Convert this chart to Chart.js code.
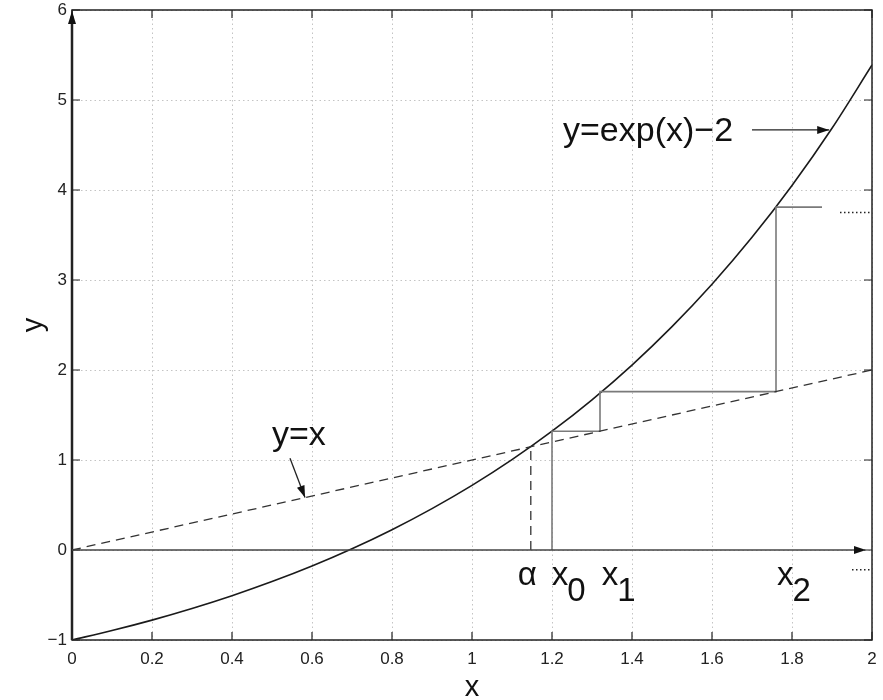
<!DOCTYPE html>
<html>
<head>
<meta charset="utf-8">
<script src="https://cdn.jsdelivr.net/npm/chart.js@4/dist/chart.umd.min.js"></script>
<style>
  body { margin: 0; background: #fff; }
</style>
</head>
<body>
<canvas id="chart" width="883" height="700"></canvas>
<script>
// y = exp(x) - 2 on [0, 2]
const curveX = [0, 0.1, 0.2, 0.3, 0.4, 0.5, 0.6, 0.7, 0.8, 0.9, 1.0,
                1.1, 1.2, 1.3, 1.4, 1.5, 1.6, 1.7, 1.8, 1.9, 2.0];
const curveY = [-1, -0.895, -0.779, -0.650, -0.508, -0.351, -0.178, 0.014, 0.226, 0.460, 0.718,
                1.004, 1.320, 1.669, 2.055, 2.482, 2.953, 3.474, 4.050, 4.686, 5.389];

// y = x
const diagX = [0, 2];
const diagY = [0, 2];

// fixed point alpha
const alphaX = [1.147, 1.147];
const alphaY = [0, 1.147];

// iterates x0 -> x1 -> x2 -> ...
const iterX = [1.2, 1.2, 1.32, 1.32, 1.76, 1.76, 1.875];
const iterY = [0, 1.32, 1.32, 1.76, 1.76, 3.81, 3.81];

// "and so on" dots
const moreX = [1.92, 1.995];
const moreY = [3.75, 3.75];
const axisMoreX = [1.95, 2.0];
const axisMoreY = [-0.22, -0.22];

const FONT = "'Liberation Sans', Arial, Helvetica, sans-serif";

const pts = (xs, ys) => xs.map((x, i) => ({ x: x, y: ys[i] }));

function arrowHead(ctx, x1, y1, x2, y2, len, half) {
  const a = Math.atan2(y2 - y1, x2 - x1);
  ctx.beginPath();
  ctx.moveTo(x2, y2);
  ctx.lineTo(x2 - len * Math.cos(a) + half * Math.sin(a), y2 - len * Math.sin(a) - half * Math.cos(a));
  ctx.lineTo(x2 - len * Math.cos(a) - half * Math.sin(a), y2 - len * Math.sin(a) + half * Math.cos(a));
  ctx.closePath();
  ctx.fill();
}

// box, inward ticks, axis arrows and annotations
const decorations = {
  id: 'decorations',
  afterDraw(chart) {
    const ctx = chart.ctx;
    const xs = chart.scales.x, ys = chart.scales.y;
    const { left, right, top, bottom } = chart.chartArea;
    const X = v => xs.getPixelForValue(v);
    const Y = v => ys.getPixelForValue(v);

    ctx.save();
    ctx.strokeStyle = '#222';
    ctx.fillStyle = '#111';

    // tick marks on all four sides
    ctx.lineWidth = 1.2;
    ctx.beginPath();
    xs.ticks.forEach(t => {
      const p = X(t.value);
      ctx.moveTo(p, bottom); ctx.lineTo(p, bottom - 8);
      ctx.moveTo(p, top); ctx.lineTo(p, top + 8);
    });
    ys.ticks.forEach(t => {
      const p = Y(t.value);
      ctx.moveTo(left, p); ctx.lineTo(left + 8, p);
      ctx.moveTo(right, p); ctx.lineTo(right - 8, p);
    });
    ctx.stroke();

    // box
    ctx.lineWidth = 1.5;
    ctx.strokeRect(left, top, right - left, bottom - top);

    // y axis with arrow
    ctx.lineWidth = 2.5;
    ctx.beginPath();
    ctx.moveTo(left, bottom); ctx.lineTo(left, top + 6);
    ctx.stroke();
    arrowHead(ctx, left, bottom, left, top + 1, 13, 4);

    // x axis (y = 0) with arrow
    const y0 = Y(0), xEnd = X(1.985);
    ctx.lineWidth = 1.5;
    ctx.strokeStyle = '#444';
    ctx.beginPath();
    ctx.moveTo(left, y0); ctx.lineTo(xEnd - 6, y0);
    ctx.stroke();
    arrowHead(ctx, left, y0, xEnd, y0, 12, 4);

    // label arrows
    const arrows = [
      [1.70, 4.667, 1.893, 4.667],
      [0.545, 1.02, 0.5825, 0.5825]
    ];
    ctx.strokeStyle = '#222';
    ctx.lineWidth = 1.3;
    arrows.forEach(([a, b, c, d]) => {
      ctx.beginPath();
      ctx.moveTo(X(a), Y(b)); ctx.lineTo(X(c), Y(d));
      ctx.stroke();
      arrowHead(ctx, X(a), Y(b), X(c), Y(d), 12, 4);
    });

    // curve labels
    ctx.fillStyle = '#111';
    ctx.font = '34px ' + FONT;
    ctx.textBaseline = 'alphabetic';
    ctx.textAlign = 'left';
    ctx.fillText('y=exp(x)\u22122', X(1.2275), Y(4.54));
    ctx.fillText('y=x', X(0.5), Y(1.167));

    // iterate labels under the axis
    ctx.font = '33px ' + FONT;
    const marks = [
      ['\u03b1', '', 1.138],
      ['x', '0', 1.22],
      ['x', '1', 1.345],
      ['x', '2', 1.783]
    ];
    marks.forEach(([main, sub, v]) => {
      ctx.textAlign = 'center';
      ctx.fillText(main, X(v), Y(-0.39));
      if (sub) {
        const w = ctx.measureText(main).width;
        ctx.textAlign = 'left';
        ctx.fillText(sub, X(v) + w / 2 - 1, Y(-0.57));
      }
    });
    ctx.restore();
  }
};

const lineSet = (label, xs, ys, color, width, dash) => ({
  label: label,
  data: pts(xs, ys),
  showLine: true,
  borderColor: color,
  borderWidth: width,
  borderDash: dash || [],
  pointRadius: 0,
  fill: false
});

const curveSet = lineSet('y=exp(x)-2', curveX, curveY, '#1a1a1a', 1.6);
curveSet.cubicInterpolationMode = 'monotone';

new Chart(document.getElementById('chart'), {
  type: 'scatter',
  data: {
    datasets: [
      lineSet('y=x', diagX, diagY, '#333', 1.3, [9, 6]),
      lineSet('alpha', alphaX, alphaY, '#333', 1.3, [9, 6]),
      lineSet('iterates', iterX, iterY, '#7a7a7a', 1.6),
      lineSet('more', moreX, moreY, '#222', 1.5, [1.5, 2.5]),
      lineSet('axis more', axisMoreX, axisMoreY, '#222', 1.5, [1.5, 2.5]),
      curveSet
    ]
  },
  options: {
    responsive: false,
    animation: false,
    events: [],
    layout: { padding: { top: 10, right: 11, left: 0, bottom: 0 } },
    plugins: { legend: { display: false }, tooltip: { enabled: false } },
    scales: {
      x: {
        type: 'linear',
        min: 0,
        max: 2,
        afterFit: s => { s.height = 60; s.paddingLeft = 0; s.paddingRight = 0; },
        ticks: {
          stepSize: 0.2,
          padding: 9,
          color: '#222',
          font: { family: FONT, size: 17 },
          callback: v => String(Math.round(v * 10) / 10)
        },
        grid: { color: '#c4c4c4', lineWidth: 1, drawTicks: false },
        border: { display: false, dash: [1.5, 3] },
        title: {
          display: true,
          text: 'x',
          color: '#111',
          padding: 0,
          font: { family: FONT, size: 29, lineHeight: 0.8 }
        }
      },
      y: {
        type: 'linear',
        min: -1,
        max: 6,
        afterFit: s => { s.width = 72; s.paddingTop = 0; s.paddingBottom = 0; },
        ticks: {
          stepSize: 1,
          padding: 5,
          color: '#222',
          font: { family: FONT, size: 17 },
          callback: v => String(v).replace('-', '\u2212')
        },
        grid: { color: '#c4c4c4', lineWidth: 1, drawTicks: false },
        border: { display: false, dash: [1.5, 3] },
        title: {
          display: true,
          text: 'y',
          color: '#111',
          padding: { top: 19, bottom: 0 },
          font: { family: FONT, size: 29, lineHeight: 1 }
        }
      }
    }
  },
  plugins: [decorations]
});
</script>
</body>
</html>
